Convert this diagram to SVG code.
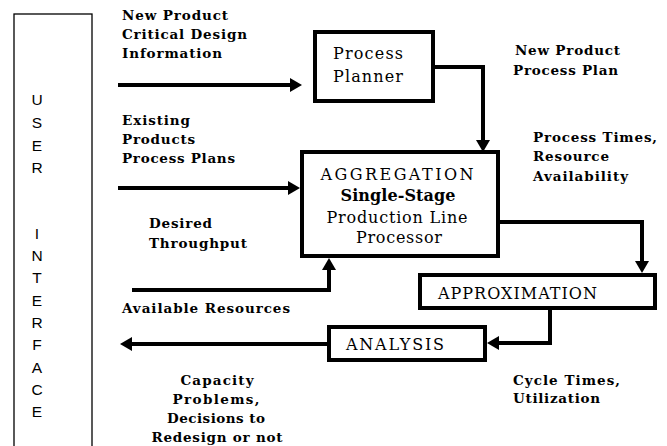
<svg xmlns="http://www.w3.org/2000/svg" width="667" height="446" viewBox="0 0 667 446">
<style>
.lbl{font-family:"DejaVu Serif","Liberation Serif",serif;font-weight:bold;font-size:13.5px;fill:#000}
.box{fill:#fff;stroke:#000;stroke-width:4}
.bt{font-family:"DejaVu Serif","Liberation Serif",serif;font-size:16px;fill:#000}
.ui{font-family:"Liberation Sans",Arial,sans-serif;font-size:15.5px;fill:#000;text-anchor:middle}
.con{fill:none;stroke:#000;stroke-width:4;stroke-linejoin:miter;marker-end:url(#ah)}
</style>
<defs>
<marker id="ah" viewBox="0 0 12 14" markerWidth="12" markerHeight="14" markerUnits="userSpaceOnUse" refX="0" refY="7" orient="auto">
<path d="M0,0 L12,7 L0,14 Z" fill="#000"/>
</marker>
</defs>
<rect width="667" height="446" fill="#fff"/>

<g id="user-interface">
<rect x="14" y="14" width="78" height="450" fill="none" stroke="#000" stroke-width="1.3"/>
<text class="ui" x="37" y="105">U</text>
<text class="ui" x="37" y="128">S</text>
<text class="ui" x="37" y="151">E</text>
<text class="ui" x="37" y="173">R</text>
<text class="ui" x="37" y="239">I</text>
<text class="ui" x="37" y="261">N</text>
<text class="ui" x="37" y="283">T</text>
<text class="ui" x="37" y="306">E</text>
<text class="ui" x="37" y="328">R</text>
<text class="ui" x="37" y="350">F</text>
<text class="ui" x="37" y="373">A</text>
<text class="ui" x="37" y="395">C</text>
<text class="ui" x="37" y="417">E</text>
</g>

<g id="process-planner">
<rect class="box" x="315" y="32" width="118" height="69"/>
<text class="bt" x="333" y="59" textLength="70" lengthAdjust="spacing">Process</text>
<text class="bt" x="333" y="82" textLength="70" lengthAdjust="spacing">Planner</text>
</g>

<g id="aggregation">
<rect class="box" x="302" y="152" width="196" height="104"/>
<text class="bt" x="397" y="180" text-anchor="middle" textLength="153" lengthAdjust="spacing">AGGREGATION</text>
<text class="bt" x="398" y="201" text-anchor="middle" font-weight="bold" font-size="15.5" textLength="115" lengthAdjust="spacing">Single-Stage</text>
<text class="bt" x="397" y="223" text-anchor="middle" textLength="141" lengthAdjust="spacing">Production Line</text>
<text class="bt" x="399" y="243" text-anchor="middle" textLength="86" lengthAdjust="spacing">Processor</text>
</g>

<g id="approximation">
<rect class="box" x="420" y="275" width="235" height="33"/>
<text class="bt" x="438" y="299" font-size="14.5" textLength="159" lengthAdjust="spacing">APPROXIMATION</text>
</g>

<g id="analysis">
<rect class="box" x="329" y="327" width="156" height="33"/>
<text class="bt" x="346" y="350" font-size="14.5" textLength="98" lengthAdjust="spacing">ANALYSIS</text>
</g>

<g id="connectors">
<path class="con" d="M118,85 H290"/>
<path class="con" d="M118,188 H288"/>
<path class="con" d="M433,67 H483 V140"/>
<path class="con" d="M132,290 H329 V270"/>
<path class="con" d="M498,222 H642 V261"/>
<path class="con" d="M550,308 V343 H499"/>
<path class="con" d="M327,344 H132"/>
</g>

<g id="labels">
<text class="lbl" x="122" y="20" textLength="106" lengthAdjust="spacing">New Product</text>
<text class="lbl" x="122" y="39" textLength="125" lengthAdjust="spacing">Critical Design</text>
<text class="lbl" x="122" y="58" textLength="100" lengthAdjust="spacing">Information</text>
<text class="lbl" x="122" y="125" textLength="68" lengthAdjust="spacing">Existing</text>
<text class="lbl" x="122" y="144" textLength="73" lengthAdjust="spacing">Products</text>
<text class="lbl" x="122" y="163" textLength="113" lengthAdjust="spacing">Process Plans</text>
<text class="lbl" x="149" y="228" textLength="63" lengthAdjust="spacing">Desired</text>
<text class="lbl" x="149" y="248" textLength="98" lengthAdjust="spacing">Throughput</text>
<text class="lbl" x="122" y="313" textLength="168" lengthAdjust="spacing">Available Resources</text>
<text class="lbl" x="217" y="385" text-anchor="middle" textLength="73" lengthAdjust="spacing">Capacity</text>
<text class="lbl" x="216" y="404" text-anchor="middle" textLength="87" lengthAdjust="spacing">Problems,</text>
<text class="lbl" x="216" y="423" text-anchor="middle" textLength="98" lengthAdjust="spacing">Decisions to</text>
<text class="lbl" x="217" y="442" text-anchor="middle" textLength="131" lengthAdjust="spacing">Redesign or not</text>
<text class="lbl" x="515" y="55" textLength="105" lengthAdjust="spacing">New Product</text>
<text class="lbl" x="513" y="75" textLength="105" lengthAdjust="spacing">Process Plan</text>
<text class="lbl" x="533" y="142" textLength="124" lengthAdjust="spacing">Process Times,</text>
<text class="lbl" x="533" y="161" textLength="76" lengthAdjust="spacing">Resource</text>
<text class="lbl" x="533" y="181" textLength="95" lengthAdjust="spacing">Availability</text>
<text class="lbl" x="513" y="385" textLength="107" lengthAdjust="spacing">Cycle Times,</text>
<text class="lbl" x="513" y="403" textLength="87" lengthAdjust="spacing">Utilization</text>
</g>
</svg>
